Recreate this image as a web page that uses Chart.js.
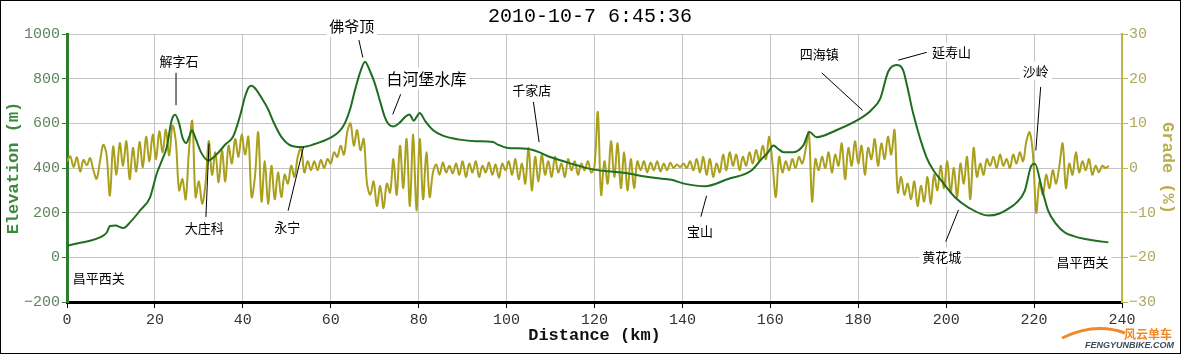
<!DOCTYPE html>
<html>
<head>
<meta charset="utf-8">
<script src="https://cdn.jsdelivr.net/npm/chart.js@4"></script>
<style>
  body { margin: 0; background: #fff; }
</style>
</head>
<body>
<canvas id="profileChart" width="1181" height="354"></canvas>
<script>
// Elevation profile: distance (km) and height (m)
const elevKm = [0, 3, 5, 7.5, 9, 9.8, 11, 12.8, 14.5, 16.6,
  18.9, 20.4, 21.5, 22.7, 23.8, 24.6, 25.5, 26.3, 27.1, 27.8,
  28.4, 29.3, 30.5, 32.1, 34, 36, 37.8, 39.4, 40.5, 41.3,
  42, 43, 44, 45.7, 47, 48.8, 50.5, 53.4, 56, 60.2,
  62, 63.2, 64.5, 65.5, 66.8, 67.8, 68.8, 70, 71.2, 72.3,
  73.2, 74.2, 75.5, 77, 77.9, 78.9, 79.5, 80.2, 81.5, 83.3,
  85.5, 89.4, 93, 96.9, 98, 100, 104.6, 107.5, 109.9, 113,
  116, 119, 123, 127, 131.5, 134, 137.5, 140.6, 145.1, 150.4,
  155.7, 158, 159.5, 160.7, 161.8, 163, 165.2, 167.5, 168.9, 170.5,
  175, 180.4, 183, 185, 186.8, 188.7, 190.2, 191.2, 192.5, 195.5,
  197.4, 198.6, 202, 205, 209.6, 212, 214.1, 216, 217.9, 219.4,
  220.2, 221.7, 223.2, 225, 227, 229, 231.6, 234, 236.9];
const elevM = [52, 65, 73, 89, 110, 140, 142, 131, 160, 209,
  269, 374, 430, 494, 613, 638, 600, 535, 512, 540,
  569, 530, 470, 434, 460, 505, 541, 636, 720, 760,
  768, 752, 722, 665, 605, 538, 505, 494, 505, 538,
  565, 600, 670, 748, 835, 876, 840, 780, 700, 628,
  595, 586, 600, 630, 640, 612, 628, 646, 610, 569,
  545, 527, 520, 516, 505, 491, 486, 470, 449, 430,
  412, 396, 385, 378, 362, 355, 347, 329, 318, 351,
  389, 440, 470, 501, 485, 471, 471, 501, 561, 538,
  569, 621, 660, 711, 831, 861, 838, 760, 644, 449,
  381, 351, 269, 224, 187, 195, 217, 245, 299, 411,
  419, 314, 209, 150, 111, 95, 82, 74, 67];

// Grade (%), one reading every gradeStep km starting at 0
const gradeStep = 0.75;
const gradePct = [1.5, 2.6, 0.2, 2.4, -0.8, 1.8, 0.6, 2.2, -0.5, -2.4,
  1.5, 5.2, 3.0, -6.2, 4.8, -1.5, 5.6, 0.5, 6.0, -2.5,
  4.5, -0.8, 5.8, 0.2, 7.0, 1.5, 7.5, 2.0, 8.2, 3.5,
  8.6, 2.8, 9.5, 6.0, -5.0, -2.5, -7.0, 4.0, 10.5, -6.5,
  -3.0, -8.0, -3.5, 6.0, -1.5, 3.5, -3.2, 4.0, -3.0, 5.0,
  1.0, 6.5, 2.5, 7.5, 3.0, 7.0, -6.5, -2.0, 8.0, -7.5,
  1.5, -8.0, 0.5, -7.0, -1.0, -6.5, -1.5, -3.5, 0.5, -2.0,
  2.5, 4.5, -1.0, 1.5, -0.5, 1.5, -0.5, 1.8, 0.0, 2.0,
  1.0, 3.5, 2.5, 5.0, 3.0, 8.0, 10.0, 5.0, 8.5, 4.0,
  6.5, -3.5, -6.0, -3.0, -8.5, -4.0, -9.0, -3.5, -5.5, 2.0,
  -6.0, 5.0, -4.5, 6.5, -8.5, 7.5, -9.5, 6.5, -7.0, 3.5,
  -6.5, -1.0, 0.8, -1.5, 1.2, -1.0, 0.5, -1.2, 1.0, -1.5,
  1.5, -2.0, 1.0, -1.0, 1.5, -2.0, 0.5, -1.0, 1.2, -1.5,
  0.8, -2.2, 1.0, -0.5, 1.5, -1.5, 2.0, -2.5, 1.0, -3.5,
  4.5, -5.0, 2.5, -3.0, 3.0, -1.5, 1.5, -2.0, 2.5, -1.0,
  1.0, -2.0, 2.0, -0.5, 1.5, -1.5, 1.0, -0.5, 1.5, -1.0,
  0.5, 12.5, -6.0, 1.5, -3.5, 6.0, -2.0, 5.5, -4.5, 3.5,
  -5.0, 2.0, -4.5, 1.5, -0.5, 1.5, -1.0, 1.2, -0.5, 1.5,
  -0.8, 1.0, -0.5, 1.2, 0.0, 0.8, 0.2, 1.0, 0.0, 1.5,
  -0.5, 2.0, -1.0, 2.5, -1.5, 2.0, -2.0, 1.0, -1.0, 3.0,
  -0.5, 3.5, 0.5, 3.0, -0.5, 2.5, 0.5, 3.5, 1.0, 4.0,
  1.5, 5.0, 2.0, 7.0, 1.0, -6.5, 2.5, -1.0, 1.5, -0.5,
  2.0, 0.0, 2.5, 1.0, 4.0, 8.0, -7.5, 2.0, -0.5, 2.5,
  0.0, 3.5, -1.0, 3.0, 0.5, 5.5, -2.5, 4.5, 0.5, 6.0,
  1.0, 5.0, -1.5, 4.5, 2.0, 6.5, 0.5, 5.5, 2.0, 7.0,
  3.0, 8.5, -5.5, -2.0, -6.0, -3.5, -7.0, -3.0, -8.5, -4.0,
  -7.5, -2.0, -8.0, -1.5, -5.0, 0.5, -4.5, 1.5, -5.5, 0.0,
  -6.5, 1.0, -3.5, 2.5, -7.0, 4.5, -2.0, 1.0, -1.5, 2.0,
  0.5, 2.5, 0.0, 3.0, 0.5, 2.0, 0.0, 3.0, 1.0, 3.5,
  1.5, 6.0, 8.0, 3.0, -10.0, -3.0, -6.0, -1.5, -4.5, -0.5,
  -3.5, 0.5, 5.5, -4.5, 1.0, -1.5, 3.5, -1.0, 1.5, -0.5,
  2.0, -1.5, 0.5, -1.0, 0.5, 0.0, 0.5];

// Place names along the route, placed in data units (km, m)
const places = [
  { text: '解字石', km: 25.5, elev: 879, size: 13, line: [24.8, 826, 24.8, 681] },
  { text: '佛爷顶', km: 64.8, elev: 1033, size: 15, line: [66.4, 973, 67.3, 895] },
  { text: '白河堡水库', km: 81.8, elev: 801, size: 16, line: [75.9, 730, 74.1, 640] },
  { text: '千家店', km: 105.7, elev: 751, size: 13, line: [106.1, 696, 107.4, 516] },
  { text: '四海镇', km: 171.1, elev: 910, size: 13, line: [171.7, 826, 181, 658] },
  { text: '延寿山', km: 201.2, elev: 920, size: 13, line: [195.6, 918, 189.1, 883] },
  { text: '沙岭', km: 220.4, elev: 835, size: 13, line: [221.5, 763, 220.4, 479] },
  { text: '大庄科', km: 31.2, elev: 131, size: 13, line: [31.6, 181, 32.3, 510] },
  { text: '永宁', km: 50.1, elev: 137, size: 13, line: [50.3, 209, 53.8, 494] },
  { text: '宝山', km: 144, elev: 119, size: 13, line: [144.2, 182, 145.5, 276] },
  { text: '黄花城', km: 199, elev: 2, size: 13, line: [199.9, 70, 202.8, 212] },
  { text: '昌平西关', km: 7.2, elev: -95, size: 13, line: null },
  { text: '昌平西关', km: 231, elev: -19, size: 13, line: null }
];

const chartTitle = '2010-10-7 6:45:36';
const minus = v => String(v).replace('-', '\u2212');

const decor = {
  id: 'decor',
  beforeDraw(chart) {
    const c = chart.ctx;
    c.save();
    c.fillStyle = '#fff';
    c.fillRect(0, 0, chart.width, chart.height);
    c.restore();
  },
  afterDatasetsDraw(chart) {
    const c = chart.ctx, xs = chart.scales.x, ys = chart.scales.y;
    c.save();
    c.textAlign = 'center';
    c.textBaseline = 'middle';
    places.forEach(p => {
      const px = xs.getPixelForValue(p.km), py = ys.getPixelForValue(p.elev);
      c.font = p.size + 'px "Noto Sans CJK SC"';
      const w = c.measureText(p.text).width;
      c.fillStyle = '#fff';
      c.fillRect(px - w / 2 - 3, py - p.size / 2 - 3, w + 6, p.size + 6);
      if (p.line) {
        c.strokeStyle = '#000';
        c.lineWidth = 1;
        c.beginPath();
        c.moveTo(xs.getPixelForValue(p.line[0]), ys.getPixelForValue(p.line[1]));
        c.lineTo(xs.getPixelForValue(p.line[2]), ys.getPixelForValue(p.line[3]));
        c.stroke();
      }
      c.fillStyle = '#000';
      c.fillText(p.text, px, py);
    });
    c.restore();
  },
  afterDraw(chart) {
    const c = chart.ctx;
    c.save();
    c.fillStyle = '#000';
    c.font = '20px "Liberation Mono"';
    c.textAlign = 'center';
    c.textBaseline = 'middle';
    c.fillText(chartTitle, 590, 17);
    // watermark
    c.font = 'bold 12px "Noto Sans CJK SC"';
    c.fillStyle = '#f0892a';
    c.textAlign = 'right';
    c.fillText('风云单车', 1172, 334);
    c.font = 'italic bold 9px "Liberation Sans"';
    c.fillStyle = '#3d4b5c';
    c.fillText('FENGYUNBIKE.COM', 1174, 346);
    c.strokeStyle = '#f0892a';
    c.lineWidth = 3;
    c.beginPath();
    c.moveTo(1062, 338);
    c.quadraticCurveTo(1095, 322, 1125, 333);
    c.stroke();
    c.strokeStyle = '#000';
    c.lineWidth = 1;
    c.strokeRect(0.5, 0.5, chart.width - 1, chart.height - 1);
    c.restore();
  }
};

new Chart(document.getElementById('profileChart'), {
  type: 'line',
  data: {
    datasets: [{
      label: 'Elevation',
      data: elevKm.map((k, i) => ({ x: k, y: elevM[i] })),
      borderColor: '#1f6e1f',
      borderWidth: 2,
      pointRadius: 0,
      cubicInterpolationMode: 'monotone',
      yAxisID: 'y'
    }, {
      label: 'Grade',
      data: gradePct.map((v, i) => ({ x: i * gradeStep, y: v })),
      borderColor: '#aaa01e',
      borderWidth: 2,
      pointRadius: 0,
      tension: 0.35,
      yAxisID: 'y2'
    }]
  },
  options: {
    responsive: false,
    animation: false,
    layout: { padding: { top: 34, left: 0, right: 0, bottom: 0 } },
    plugins: { legend: { display: false }, tooltip: { enabled: false } },
    scales: {
      x: {
        type: 'linear', min: 0, max: 240,
        ticks: { stepSize: 20, color: '#333', font: { family: 'Liberation Mono', size: 15 }, padding: 3, maxRotation: 0 },
        grid: { color: '#c4c4c4', tickColor: '#000', tickLength: 6 },
        border: { color: '#000', width: 3 },
        title: { display: true, text: 'Distance (km)', color: '#111', padding: { top: 0, bottom: 8 },
          font: { family: 'Liberation Mono', size: 17, weight: 'bold' } },
        afterFit: s => { s.height = 52; }
      },
      y: {
        position: 'left', min: -200, max: 1000,
        ticks: { stepSize: 200, color: '#5d855d', padding: 2, callback: minus,
          font: { family: 'Liberation Mono', size: 15 } },
        grid: { color: '#c4c4c4', tickColor: '#2e7d2e', tickLength: 5 },
        border: { color: '#2e7d2e', width: 3 },
        title: { display: true, text: 'Elevation (m)', color: '#3a8a3a',
          font: { family: 'Liberation Mono', size: 17, weight: 'bold' } },
        afterFit: s => { s.width = 67; }
      },
      y2: {
        position: 'right', min: -30, max: 30,
        ticks: { stepSize: 10, color: '#b0a860', padding: 1, callback: minus,
          font: { family: 'Liberation Mono', size: 15 } },
        grid: { drawOnChartArea: false, tickColor: '#bdb44a', tickLength: 6 },
        border: { color: '#bdb44a', width: 2 },
        title: { display: true, text: 'Grade (%)', color: '#b8ae50',
          font: { family: 'Liberation Mono', size: 17, weight: 'bold' } },
        afterFit: s => { s.width = 59; }
      }
    }
  },
  plugins: [decor]
});
</script>
</body>
</html>
